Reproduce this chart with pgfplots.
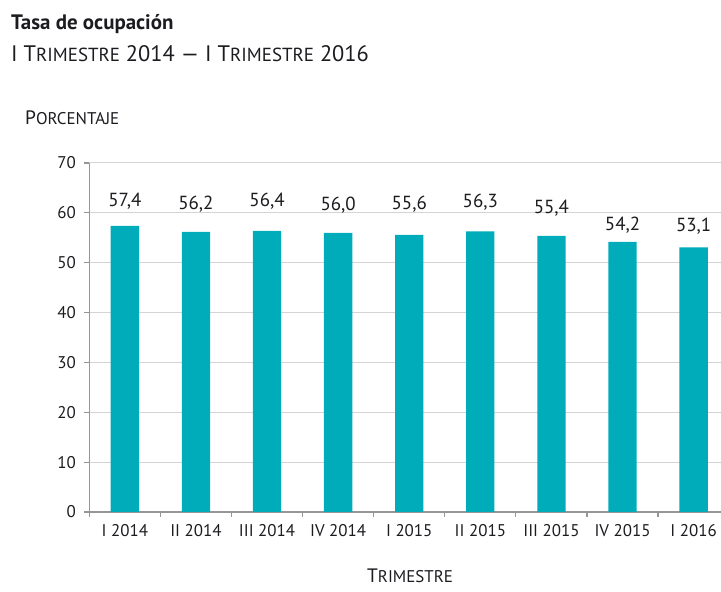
\documentclass[border=0pt]{standalone}
\usepackage{pgfplots}
\pgfplotsset{compat=1.18}
\usepackage{fontspec}
\setmainfont{PT Sans}
\definecolor{barc}{RGB}{0,172,185}
\definecolor{txt}{RGB}{28,28,32}
\definecolor{axisgray}{RGB}{150,150,150}
\definecolor{gridgray}{RGB}{212,212,212}
\newcommand{\fs}[1]{\fontsize{#1}{#1}\selectfont}
\pgfplotstableread{
x y lab ly
0 57.4 {57,4} 61.2
1 56.2 {56,2} 60.6
2 56.4 {56,4} 61.2
3 56.0 {56,0} 60.4
4 55.6 {55,6} 60.6
5 56.3 {56,3} 61.0
6 55.4 {55,4} 59.9
7 54.2 {54,2} 56.4
8 53.1 {53,1} 56.2
}\datatable
\begin{document}
\begin{tikzpicture}[x=1bp,y=1bp]
\useasboundingbox (0,0) rectangle (721,592);
\node[anchor=base west, inner sep=0, text=txt, font=\fs{21}\bfseries] at (11,562) {Tasa de ocupación};
\node[anchor=base west, inner sep=0, text=txt, font=\fs{22.5}] at (11,530) {I T{\fs{19}RIMESTRE} 2014 — I T{\fs{19}RIMESTRE} 2016};
\node[anchor=base west, inner sep=0, text=txt, font=\fs{19.5}] at (25,467) {P{\fs{17}ORCENTAJE}};
\node[anchor=base west, inner sep=0, text=txt, font=\fs{19.5}] at (367,9) {T{\fs{17}RIMESTRE}};
\begin{axis}[
  at={(89.3bp,80bp)}, anchor=south west,
  width=631.7bp, height=349bp, scale only axis,
  xmin=-0.5, xmax=8.385, ymin=0, ymax=70,
  axis x line*=bottom, axis y line*=left,
  axis line style={-, axisgray, line width=1.2bp},
  ytick={0,10,...,70},
  ymajorgrids, grid style={gridgray, line width=1bp},
  xtick={0,...,8},
  xticklabels={I 2014, II 2014, III 2014, IV 2014, I 2015, II 2015, III 2015, IV 2015, I 2016},
  minor xtick={-0.5,0.5,...,7.5},
  tick align=outside,
  major tick length=5bp, minor tick length=5bp,
  major x tick style={draw=none},
  minor x tick style={axisgray, line width=1.2bp},
  major y tick style={axisgray, line width=1.2bp},
  /pgf/number format/assume math mode=true,
  tick label style={text=txt, font=\fs{17}},
  xticklabel style={anchor=north, yshift=-4bp},
  yticklabel style={anchor=east, xshift=-5bp},
  clip=false,
]
\addplot[ybar, bar width=28.3bp, fill=barc, draw=none] table[x=x, y=y] {\datatable};
\addplot[draw=none, mark=none, nodes near coords, point meta=explicit symbolic,
  nodes near coords style={anchor=base, inner sep=0, text=txt, font=\fs{19}}]
  table[x=x, y=ly, meta=lab] {\datatable};
\end{axis}
\end{tikzpicture}
\end{document}
